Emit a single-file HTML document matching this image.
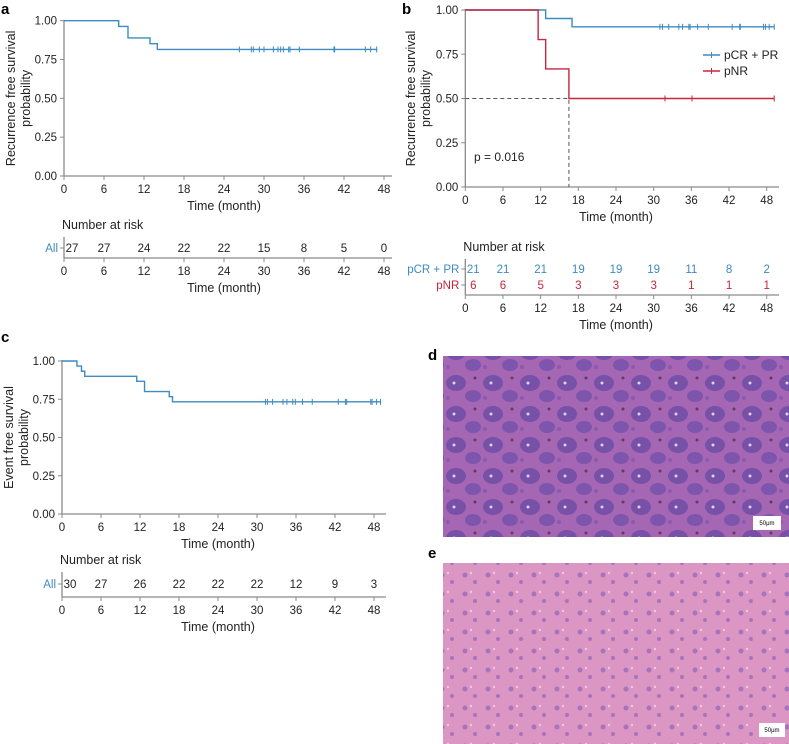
<!DOCTYPE html>
<html><head><meta charset="utf-8"><style>
html,body{margin:0;padding:0;background:#fff;}
svg{display:block;font-family:"Liberation Sans",Arial,sans-serif;}
</style></head><body>
<svg id="fig" width="789" height="744" viewBox="0 0 789 744" xmlns="http://www.w3.org/2000/svg">
<defs>
<pattern id="patD" width="37" height="31" patternUnits="userSpaceOnUse">
<rect width="37" height="31" fill="#a566b3"/>
<ellipse cx="12" cy="11" rx="10" ry="8" fill="#6e4ca6" opacity="0.85"/>
<ellipse cx="29" cy="24" rx="8" ry="6" fill="#7652aa" opacity="0.85"/>
<circle cx="10" cy="11" r="1.5" fill="#e0d0ec"/>
<circle cx="31" cy="6" r="1.5" fill="#4a2a30" opacity="0.7"/>
<circle cx="4" cy="26" r="2" fill="#8a5ab0"/>
</pattern>
<pattern id="patE" width="23" height="19" patternUnits="userSpaceOnUse">
<rect width="23" height="19" fill="#dc96c4"/>
<circle cx="5" cy="5" r="2.5" fill="#9a6ab8" opacity="0.8"/>
<circle cx="15" cy="12" r="2" fill="#9a6ab8" opacity="0.8"/>
<circle cx="11" cy="3" r="1.2" fill="#f0c8e0"/>
</pattern>
</defs>
<g id="root"></g>
<g>
<text x="428" y="360" font-size="15" font-weight="bold">d</text>
<rect x="443" y="356" width="346" height="181" fill="url(#patD)"/>
<rect x="753" y="516" width="28" height="14" fill="#fff"/>
<text x="767" y="525" font-size="6" text-anchor="middle">50μm</text>
</g>
<g>
<text x="428" y="558" font-size="15" font-weight="bold">e</text>
<rect x="443" y="563" width="346" height="181" fill="url(#patE)"/>
<rect x="759" y="723" width="26" height="14" fill="#fff"/>
<text x="772" y="732" font-size="6" text-anchor="middle">50μm</text>
</g>
</svg>
<script>
// ---- data ----
const xTicks = [0,6,12,18,24,30,36,42,48];
const yTicks = [0,0.25,0.5,0.75,1.0];
const yTickLabels = ["0.00","0.25","0.50","0.75","1.00"];
// panel a
const aTimes = [0,8.2,9.6,12.9,14.0,47];
const aSurv = [1.0,0.963,0.889,0.852,0.815,0.815];
const aCensor = [26.3,28.1,28.4,29.3,30.0,31.4,32.1,32.5,32.9,33.7,33.9,35.3,40.5,40.6,45.2,46.0,46.9];
const aRisk = [27,27,24,22,22,15,8,5,0];
// panel b
const bPcrTimes = [0,12.8,17.0,49.2];
const bPcrSurv = [1.0,0.952,0.905,0.905];
const bPcrCensor = [31,31.4,32.4,34,34.6,35.6,35.8,37,38.7,42.5,43.7,43.8,47.5,47.8,48.4,49.2];
const bPnrTimes = [0,11.6,12.8,16.5,49.2];
const bPnrSurv = [1.0,0.833,0.667,0.5,0.5];
const bPnrCensor = [31.8,36.1,49.2];
const bRiskPcr = [21,21,21,19,19,19,11,8,2];
const bRiskPnr = [6,6,5,3,3,3,1,1,1];
const bMedian = 16.5;
// panel c
const cTimes = [0,2.3,3.0,3.5,11.5,12.7,16.5,17.0,49];
const cSurv = [1.0,0.967,0.933,0.9,0.867,0.8,0.767,0.733,0.733];
const cCensor = [31.3,31.6,32.4,34,34.6,35.5,35.9,37,38.5,42.5,43.6,43.8,47.5,47.7,48.4,49];
const cRisk = [30,27,26,22,22,22,12,9,3];

const BLUE="#3d8bc1", RED="#c8253f", GREY="#8a8a8a", TXT="#222";
const NS="http://www.w3.org/2000/svg";
const root=document.getElementById('root');
function mk(tag,attrs,parent,text){const e=document.createElementNS(NS,tag);for(const k in attrs)e.setAttribute(k,attrs[k]);if(text!==undefined)e.textContent=text;(parent||root).appendChild(e);return e;}

function axisFns(x0,x48,y1,y0){
  return {sx:t=>x0+(x48-x0)*t/48, sy:v=>y0-(y0-y1)*v};
}
function stepPath(times,surv,ax){
  let d="M"+ax.sx(times[0])+","+ax.sy(surv[0]);
  for(let i=1;i<times.length;i++){d+=" H"+ax.sx(times[i])+" V"+ax.sy(surv[i]);}
  return d;
}
function findSurv(times,surv,t){let v=surv[0];for(let i=0;i<times.length;i++){if(times[i]<=t)v=surv[i];}return v;}

function drawPlot(g,cfg){
  const ax=axisFns(cfg.x0,cfg.x48,cfg.y1,cfg.y0);
  const axes=mk('g',{},g);
  
  
  mk('line',{x1:cfg.x0,y1:cfg.y1-1,x2:cfg.x0,y2:cfg.y0,stroke:GREY,'stroke-width':1.3},axes);
  mk('line',{x1:cfg.x0,y1:cfg.y0,x2:cfg.xEnd,y2:cfg.y0,stroke:GREY,'stroke-width':1.3},axes);
  yTicks.forEach((v,i)=>{
    const y=ax.sy(v);
    mk('line',{x1:cfg.x0-4,y1:y,x2:cfg.x0,y2:y,stroke:GREY},axes);
    const t=mk('text',{x:cfg.x0-7,y:y+4,'font-size':11.5,'text-anchor':'end',fill:TXT},axes,yTickLabels[i]);
    
    
  });
  xTicks.forEach(v=>{
    const x=ax.sx(v);
    mk('line',{x1:x,y1:cfg.y0,x2:x,y2:cfg.y0+4,stroke:GREY},axes);
    const t=mk('text',{x:x,y:cfg.y0+17,'font-size':11.5,'text-anchor':'middle',fill:TXT},axes,String(v));
    
    
  });
  const xt=mk('text',{x:(cfg.x0+cfg.x48)/2,y:cfg.y0+34,'font-size':12.5,'text-anchor':'middle',fill:TXT},g,'Time (month)');
  
  
  const cy=(cfg.y0+cfg.y1)/2;
  const yt=mk('text',{transform:`translate(${cfg.ytx},${cy}) rotate(-90)`,'font-size':12.5,'text-anchor':'middle',fill:TXT},g);
  
  
  mk('tspan',{x:0,dy:-7},yt,cfg.ytitle);
  mk('tspan',{x:0,dy:15},yt,'probability');
  return ax;
}
function drawSeries(g,ax,times,surv,censor,color,name){
  const s=mk('g',{},g);
  
  
  mk('path',{d:stepPath(times,surv,ax),fill:'none',stroke:color,'stroke-width':1.4},s);
  censor.forEach(t=>{
    const x=ax.sx(t),y=ax.sy(findSurv(times,surv,t));
    const m=mk('line',{x1:x,y1:y-3,x2:x,y2:y+3,stroke:color,'stroke-width':1},s);
    
    
  });
}
function drawRisk(g,cfg,rows){
  const ax=axisFns(cfg.x0,cfg.x48,0,1);
  const h=mk('text',{x:cfg.x0-2,y:cfg.headY,'font-size':12.5,fill:TXT},g,'Number at risk');
  
  
  mk('line',{x1:cfg.x0,y1:cfg.headY+8,x2:cfg.x0,y2:cfg.axY,stroke:GREY,'stroke-width':1.3},g);
  mk('line',{x1:cfg.x0,y1:cfg.axY,x2:cfg.xEnd,y2:cfg.axY,stroke:GREY,'stroke-width':1.3},g);
  rows.forEach(r=>{
    mk('line',{x1:cfg.x0-4,y1:r.y-4,x2:cfg.x0,y2:r.y-4,stroke:GREY},g);
    const l=mk('text',{x:cfg.x0-6,y:r.y,'font-size':11.5,'text-anchor':'end',fill:r.color},g,r.label);
    
    
    r.vals.forEach((v,i)=>{
      const t=mk('text',{x:ax.sx(xTicks[i])+(i===0?8:0),y:r.y,'font-size':11.5,'text-anchor':'middle',fill:r.valColor||r.color},g,String(v));
      
      
    });
  });
  xTicks.forEach(v=>{
    const x=ax.sx(v);
    mk('line',{x1:x,y1:cfg.axY,x2:x,y2:cfg.axY+4,stroke:GREY},g);
    const t=mk('text',{x:x,y:cfg.axY+17,'font-size':11.5,'text-anchor':'middle',fill:TXT},g,String(v));
    
    
  });
  const xt=mk('text',{x:(cfg.x0+cfg.x48)/2,y:cfg.axY+34,'font-size':12.5,'text-anchor':'middle',fill:TXT},g,'Time (month)');
  
  
}

// Panel a
const ga=mk('g',{});


const la=mk('text',{x:1,y:14,'font-size':15,'font-weight':'bold'},ga,'a');


const axA=drawPlot(ga,{x0:64,x48:384,xEnd:392,y1:20.7,y0:176,ytx:22,ytitle:'Recurrence free survival'});
drawSeries(ga,axA,aTimes,aSurv,aCensor,BLUE,'series-all');
drawRisk(ga,{x0:64,x48:384,xEnd:392,headY:229,axY:258},[{label:'All',vals:aRisk,color:BLUE,valColor:TXT,y:252}]);

// Panel b
const gb=mk('g',{});


const lb=mk('text',{x:402,y:14,'font-size':15,'font-weight':'bold'},gb,'b');


const axB=drawPlot(gb,{x0:465.3,x48:766.7,xEnd:779,y1:10,y0:187,ytx:422,ytitle:'Recurrence free survival'});
const med=mk('path',{d:`M${axB.sx(0)},${axB.sy(0.5)} H${axB.sx(bMedian)} V${axB.sy(0)}`,fill:'none',stroke:'#555','stroke-dasharray':'4,3','stroke-width':1},gb);


drawSeries(gb,axB,bPcrTimes,bPcrSurv,bPcrCensor,BLUE,'series-pcr-pr');
drawSeries(gb,axB,bPnrTimes,bPnrSurv,bPnrCensor,RED,'series-pnr');
const pv=mk('text',{x:474,y:161,'font-size':12,fill:TXT},gb,'p = 0.016');


[[BLUE,'pCR + PR',55],[RED,'pNR',71]].forEach(([c,l,y])=>{
  const e=mk('g',{},gb);
  
  
  mk('line',{x1:703,y1:y,x2:720,y2:y,stroke:c,'stroke-width':1.4},e);
  mk('line',{x1:711.5,y1:y-3,x2:711.5,y2:y+3,stroke:c},e);
  mk('text',{x:724,y:y+4,'font-size':12,fill:TXT},e,l);
});
drawRisk(gb,{x0:465.3,x48:766.7,xEnd:779,headY:251,axY:295},[
  {label:'pCR + PR',vals:bRiskPcr,color:BLUE,y:273},
  {label:'pNR',vals:bRiskPnr,color:RED,y:289}]);

// Panel c
const gc=mk('g',{});


const lc=mk('text',{x:1,y:342,'font-size':15,'font-weight':'bold'},gc,'c');


const axC=drawPlot(gc,{x0:62,x48:374,xEnd:386,y1:361,y0:514,ytx:20,ytitle:'Event free survival'});
drawSeries(gc,axC,cTimes,cSurv,cCensor,BLUE,'series-all');
drawRisk(gc,{x0:62,x48:374,xEnd:386,headY:564,axY:597},[{label:'All',vals:cRisk,color:BLUE,valColor:TXT,y:588}]);
</script>
</body></html>
